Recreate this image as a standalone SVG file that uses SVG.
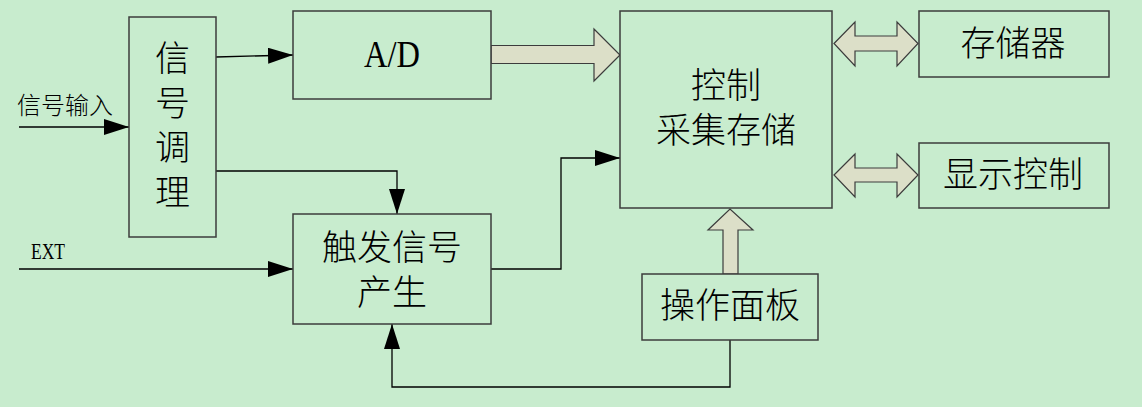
<svg xmlns="http://www.w3.org/2000/svg" width="1142" height="407" viewBox="0 0 1142 407">
<style>
.box{fill:#c8ecce;stroke:#3c3c3c;stroke-width:1.5}
.t{font-family:"Liberation Serif","Noto Sans CJK SC",serif;fill:#000;text-anchor:middle}
.big{font-size:35px;font-weight:300}
.ln{fill:none;stroke:#000;stroke-width:1.3}
.wide{fill:#dcdfc8;stroke:#3c3c3c;stroke-width:1.2}
</style>
<defs>
<marker id="ah" viewBox="0 0 25 16" refX="25" refY="8" markerWidth="25" markerHeight="16" markerUnits="userSpaceOnUse" orient="auto">
<path d="M0,0 L25,8 L0,16 Z" fill="#000"/>
</marker>
</defs>
<rect width="1142" height="407" fill="#c8ecce"/>

<g id="connectors">
<line class="ln" x1="19" y1="127" x2="129" y2="127" marker-end="url(#ah)"/>
<line class="ln" x1="216" y1="57" x2="293" y2="55" marker-end="url(#ah)"/>
<polyline class="ln" points="216,171 397,171 397,214" marker-end="url(#ah)"/>
<line class="ln" x1="19" y1="269" x2="293" y2="269" marker-end="url(#ah)"/>
<polyline class="ln" points="491,269 561,269 561,158 620,158" marker-end="url(#ah)"/>
<polyline class="ln" points="730,340 730,387 392,387 392,324" marker-end="url(#ah)"/>
<path class="wide" d="M491,45.5 L594,45.5 L594,29 L620,55 L594,81 L594,63.5 L491,63.5 Z"/>
<path class="wide" d="M834,43.5 L855,22 L855,36 L897,36 L897,22 L918,43.5 L897,66 L897,51 L855,51 L855,66 Z"/>
<path class="wide" d="M834,175 L855,154 L855,168 L897,168 L897,154 L918,175 L897,197 L897,182 L855,182 L855,197 Z"/>
<path class="wide" d="M723,274 L723,230 L708,230 L730,209 L753,230 L738,230 L738,274 Z"/>
</g>

<g id="input-label">
<text class="t" x="65" y="114" font-size="24" font-weight="300">信号输入</text>
</g>
<g id="ext-label">
<text class="t" x="48" y="259" font-size="24" textLength="34" lengthAdjust="spacingAndGlyphs">EXT</text>
</g>

<g id="signal-cond">
<rect class="box" x="129" y="17" width="87" height="220"/>
<text class="t big" x="172.5" y="71">信</text>
<text class="t big" x="172.5" y="116">号</text>
<text class="t big" x="172.5" y="160">调</text>
<text class="t big" x="172.5" y="205">理</text>
</g>

<g id="ad">
<rect class="box" x="293" y="11" width="198" height="88"/>
<text class="t" x="392" y="67" font-size="38" textLength="56" lengthAdjust="spacingAndGlyphs">A/D</text>
</g>

<g id="control">
<rect class="box" x="620" y="11" width="212" height="197"/>
<text class="t big" x="726" y="98">控制</text>
<text class="t big" x="726" y="143">采集存储</text>
</g>

<g id="memory">
<rect class="box" x="919" y="11" width="190" height="66"/>
<text class="t big" x="1013" y="56">存储器</text>
</g>

<g id="display">
<rect class="box" x="919" y="143" width="190" height="65"/>
<text class="t big" x="1013" y="187">显示控制</text>
</g>

<g id="trigger">
<rect class="box" x="293" y="214" width="198" height="110"/>
<text class="t big" x="392" y="260">触发信号</text>
<text class="t big" x="392" y="305">产生</text>
</g>

<g id="panel">
<rect class="box" x="642" y="274" width="176" height="66"/>
<text class="t big" x="730" y="318">操作面板</text>
</g>
</svg>
